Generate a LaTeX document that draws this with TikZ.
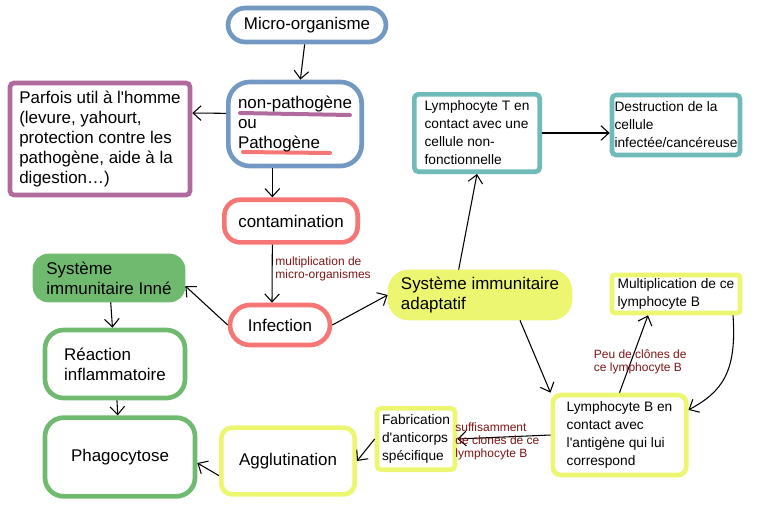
\documentclass[tikz,border=0pt]{standalone}
\usepackage{fontspec}
\setmainfont{Liberation Sans}
\usetikzlibrary{arrows.meta}
\usetikzlibrary{positioning}
\definecolor{blueC}{RGB}{115,152,194}
\definecolor{purpleC}{RGB}{176,106,158}
\definecolor{redC}{RGB}{246,118,118}
\definecolor{tealC}{RGB}{112,186,186}
\definecolor{greenC}{RGB}{112,186,112}
\definecolor{yellowC}{RGB}{236,246,112}
\definecolor{lblC}{RGB}{128,22,22}
\tikzset{
  bigtext/.style={font=\fontsize{12.7}{15}\selectfont, align=left, inner sep=0pt},
  smalltext/.style={font=\fontsize{10.3}{13.5}\selectfont, align=left, inner sep=0pt},
  outline/.style={draw=#1, line width=3.5pt},
  lbl/.style={font=\fontsize{9}{10}\selectfont, text=lblC, align=left, inner sep=0pt},
  arr/.style={draw=black, line width=0.8pt, -{Straight Barb[length=6pt,width=11pt]}}
}
\begin{document}
\begin{tikzpicture}[x=0.75pt,y=-0.75pt]
\useasboundingbox (0,0) rectangle (768,504);
\draw[purpleC,line width=3pt,line cap=round] (240,113) -- (350,115);
\draw[redC,line width=3pt,line cap=round] (243,152) -- (330,153);

\node[bigtext,outline=blueC,rounded corners=13pt,minimum width=118.5pt,minimum height=25.5pt] (micro) at (307,25) {Micro-organisme};
\node[bigtext,outline=blueC,rounded corners=16pt,minimum width=100pt,minimum height=63pt] (nonpath) at (295,124) {non-pathogène\\ou\\Pathogène};
\node[bigtext,outline=purpleC,rounded corners=3pt,minimum width=135pt,minimum height=84pt] (parfois) at (100,139) {Parfois util à l\textquotesingle homme\\(levure, yahourt,\\protection contre les\\pathogène, aide à la\\digestion…)};
\node[bigtext,outline=redC,rounded corners=12pt,minimum width=100pt,minimum height=32pt] (contam) at (291,221) {contamination};
\node[bigtext,outline=redC,rounded corners=15pt,minimum width=75pt,minimum height=30pt] (infect) at (280,325) {Infection};
\node[bigtext,outline=greenC,fill=greenC,rounded corners=10pt,minimum width=111pt,minimum height=33pt] (inne) at (109,278) {Système\\immunitaire Inné};
\node[bigtext,outline=greenC,rounded corners=14pt,minimum width=105pt,minimum height=51pt] (reaction) at (115,364) {Réaction\\inflammatoire};
\node[bigtext,outline=greenC,rounded corners=14pt,minimum width=112.5pt,minimum height=59pt] (phago) at (120,457) {Phagocytose};
\node[bigtext,outline=yellowC,rounded corners=8pt,minimum width=100pt,minimum height=50pt] (agglut) at (288,461) {Agglutination};
\node[smalltext,outline=yellowC,rounded corners=3pt,minimum width=58.5pt,minimum height=46pt] (fabric) at (416,439) {Fabrication\\d\textquotesingle anticorps\\spécifique};
\node[smalltext,outline=yellowC,rounded corners=6pt,minimum width=100pt,minimum height=60pt] (lymphB) at (619.5,435) {Lymphocyte B en\\contact avec\\l\textquotesingle antigène qui lui\\correspond};
\node[smalltext,outline=yellowC,rounded corners=2pt,minimum width=96pt,minimum height=28.5pt] (multB) at (676,294) {Multiplication de ce\\lymphocyte B};
\node[bigtext,outline=yellowC,fill=yellowC,rounded corners=14pt,minimum width=135pt,minimum height=34.5pt] (adapt) at (480,295) {Système immunitaire\\adaptatif};
\node[smalltext,outline=tealC,rounded corners=3pt,minimum width=94pt,minimum height=58pt] (lymphT) at (477,133) {Lymphocyte T en\\contact avec une\\cellule non-\\fonctionnelle};
\node[smalltext,outline=tealC,rounded corners=3pt,minimum width=96pt,minimum height=45pt] (destr) at (676,125) {Destruction de la\\cellule\\infectée/cancéreuse};

\draw[arr] (micro) -- (nonpath);
\draw[arr] ([yshift=8pt]nonpath.west) -- ([yshift=19.5pt]parfois.east);
\draw[arr] ([xshift=-17pt]nonpath.south) -- ([xshift=-14pt]contam.north);
\draw[arr] ([xshift=-14pt]contam.south) -- ([xshift=-6pt]infect.north) node[lbl,pos=0.42,anchor=west,xshift=2pt] {multiplication de\\micro-organismes};
\draw[arr] (infect.west) -- ([yshift=-6pt]inne.east);
\draw[arr] (infect.east) -- (adapt.west);
\draw[arr] ([xshift=-16pt]adapt.north) -- (lymphT.south);
\draw[arr] (lymphT.east) -- (lymphT.east -| destr.west);
\draw[arr] ([xshift=30pt]adapt.south) -- (lymphB.north west);
\draw[arr] (lymphB.north) -- ([xshift=-21pt]multB.south) node[lbl,pos=0.4,xshift=7pt] {Peu de clônes de\\ce lymphocyte B};
\draw[arr] ([xshift=-7pt]multB.south east) .. controls (737,372) and (722,392) .. (lymphB.20);
\draw[arr] (lymphB.west) -- (fabric.east) node[lbl,pos=0.57,yshift=-3pt] {suffisamment\\de clones de ce\\lymphocyte B};
\draw[arr] (fabric.west) -- (agglut.east);
\draw[arr] ([yshift=-11pt]agglut.west) -- ([yshift=-4.5pt]phago.east);
\draw[arr] (inne) -- (reaction);
\draw[arr] (reaction) -- (phago);
\end{tikzpicture}
\end{document}
